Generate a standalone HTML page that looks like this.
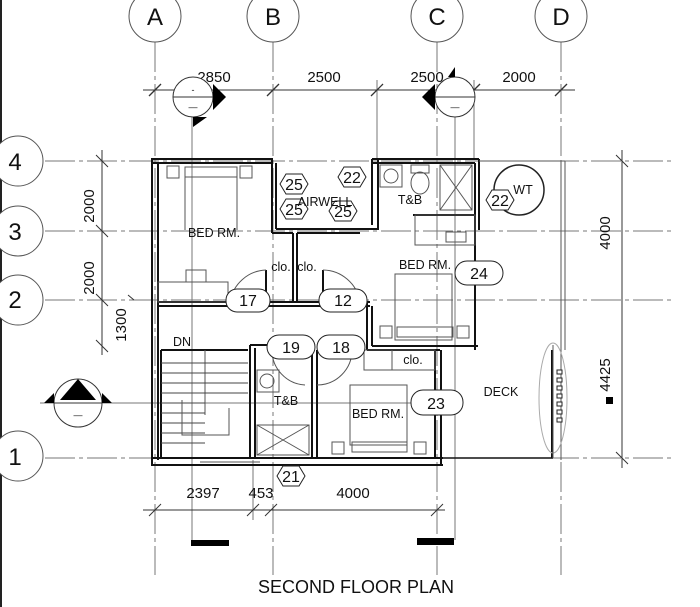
<!DOCTYPE html>
<html><head><style>
body{margin:0;background:#fff;}
svg{display:block;}
text{font-family:"Liberation Sans",sans-serif;fill:#111;}
</style></head><body>
<svg width="700" height="607" viewBox="0 0 700 607" xmlns="http://www.w3.org/2000/svg">
<rect width="700" height="607" fill="#fff"/>
<line x1="1" y1="0" x2="1" y2="607" stroke="#222" stroke-width="2"/>
<g stroke="#777" stroke-width="1" fill="none">
<line x1="155" y1="42" x2="155" y2="575" stroke-dasharray="30,4,4,4"/>
<line x1="273" y1="42" x2="273" y2="575" stroke-dasharray="30,4,4,4"/>
<line x1="437" y1="42" x2="437" y2="575" stroke-dasharray="30,4,4,4"/>
<line x1="561" y1="42" x2="561" y2="575" stroke-dasharray="30,4,4,4"/>
<line x1="45" y1="161" x2="672" y2="161" stroke-dasharray="30,4,4,4"/>
<line x1="45" y1="231" x2="672" y2="231" stroke-dasharray="30,4,4,4"/>
<line x1="45" y1="300" x2="672" y2="300" stroke-dasharray="30,4,4,4"/>
<line x1="45" y1="458" x2="672" y2="458" stroke-dasharray="30,4,4,4"/>
<line x1="40" y1="403" x2="440" y2="403"/>
<line x1="377" y1="80" x2="377" y2="160"/>
<line x1="474" y1="80" x2="474" y2="160"/>
<line x1="192" y1="110" x2="192" y2="540"/>
<line x1="455" y1="110" x2="455" y2="540"/>
<line x1="253" y1="460" x2="253" y2="520"/>
</g>
<g stroke="#555" fill="#fff" stroke-width="1">
<circle cx="155" cy="16" r="26"/><circle cx="273" cy="16" r="26"/>
<circle cx="437" cy="16" r="26"/><circle cx="561" cy="16" r="26"/>
<circle cx="18" cy="161" r="25"/><circle cx="18" cy="231" r="25"/>
<circle cx="18" cy="300" r="25"/><circle cx="18" cy="456" r="25"/>
</g>
<g font-size="24" text-anchor="middle">
<text x="155" y="25">A</text><text x="273" y="25">B</text><text x="437" y="25">C</text><text x="561" y="25">D</text>
<text x="15" y="170">4</text><text x="15" y="240">3</text><text x="15" y="308">2</text><text x="15" y="465">1</text>
</g>
<g stroke="#333" stroke-width="1">
<line x1="143" y1="90" x2="575" y2="90"/>
<g stroke-width="1.3">
<line x1="149" y1="96" x2="161" y2="84"/><line x1="267" y1="96" x2="279" y2="84"/>
<line x1="371" y1="96" x2="383" y2="84"/><line x1="468" y1="96" x2="480" y2="84"/>
<line x1="555" y1="96" x2="567" y2="84"/>
</g>
<line x1="102" y1="150" x2="102" y2="355"/>
<line x1="96" y1="155" x2="108" y2="167"/><line x1="96" y1="225" x2="108" y2="237"/>
<line x1="96" y1="294" x2="108" y2="306"/><line x1="96" y1="340" x2="108" y2="352"/>
<line x1="128" y1="295" x2="134" y2="300"/>
<line x1="622" y1="150" x2="622" y2="468"/>
<line x1="616" y1="155" x2="628" y2="167"/><line x1="616" y1="452" x2="628" y2="464"/>
<line x1="143" y1="510" x2="445" y2="510"/>
<line x1="149" y1="516" x2="161" y2="504"/><line x1="247" y1="516" x2="259" y2="504"/>
<line x1="265" y1="516" x2="277" y2="504"/><line x1="431" y1="516" x2="443" y2="504"/>
</g>
<g font-size="15" text-anchor="middle">
<text x="214" y="82">2850</text><text x="324" y="82">2500</text><text x="427" y="82">2500</text><text x="519" y="82">2000</text>
<text x="203" y="498">2397</text><text x="261" y="498">453</text><text x="353" y="498">4000</text>
<text transform="translate(94,206) rotate(-90)">2000</text>
<text transform="translate(94,278) rotate(-90)">2000</text>
<text transform="translate(126,325) rotate(-90)">1300</text>
<text transform="translate(610,233) rotate(-90)">4000</text>
<text transform="translate(610,375) rotate(-90)">4425</text>
</g>
<rect x="606" y="397" width="7" height="7" fill="#000"/>
<g stroke="#333" fill="#fff">
<circle cx="193" cy="97" r="20"/><line x1="173" y1="97" x2="213" y2="97"/>
<circle cx="455" cy="97" r="20"/><line x1="435" y1="97" x2="475" y2="97"/>
<circle cx="78" cy="403" r="24"/><line x1="54" y1="403" x2="102" y2="403"/>
</g>
<g fill="#000">
<polygon points="213,97 226,97 213,84"/><polygon points="213,97 226,97 213,110" />
<polygon points="193,117 193,127 207,117"/>
<polygon points="435,97 422,97 435,84"/><polygon points="435,97 422,97 435,110"/>
<polygon points="455,77 455,67 448,77"/>
<polygon points="78,379 60,400 96,400"/><polygon points="54,403 44,403 54,393"/><polygon points="102,403 112,403 102,393"/>
<rect x="191" y="540" width="38" height="6"/><rect x="417" y="538" width="37" height="7"/>
</g>
<g font-size="9" text-anchor="middle"><text x="193" y="93">-</text><text x="193" y="110">—</text><text x="455" y="110">—</text><text x="78" y="418">—</text></g>
<g stroke="#111" stroke-width="2" fill="none">
<rect x="152" y="159" width="120" height="4"/>
<line x1="152" y1="159" x2="152" y2="466"/><line x1="158" y1="163" x2="158" y2="460"/>
<line x1="272" y1="159" x2="272" y2="233"/><line x1="276" y1="163" x2="276" y2="229"/>
<line x1="276" y1="229" x2="378" y2="229"/><line x1="272" y1="233" x2="293" y2="233"/><line x1="297" y1="233" x2="360" y2="233"/>
<line x1="378" y1="159" x2="378" y2="230"/><line x1="372" y1="159" x2="372" y2="225"/>
<line x1="372" y1="159" x2="479" y2="159"/><line x1="372" y1="163" x2="475" y2="163"/>
<line x1="475" y1="163" x2="475" y2="350"/><line x1="479" y1="159" x2="479" y2="230"/>
<line x1="413" y1="215" x2="475" y2="215"/>
<line x1="293" y1="233" x2="293" y2="302"/><line x1="297" y1="233" x2="297" y2="302"/>
<line x1="266" y1="270" x2="266" y2="302"/><line x1="323" y1="270" x2="323" y2="302"/>
<line x1="158" y1="302" x2="370" y2="302"/><line x1="158" y1="306" x2="370" y2="306"/>
<line x1="367" y1="302" x2="367" y2="350"/><line x1="372" y1="306" x2="372" y2="346"/>
<line x1="372" y1="346" x2="478" y2="346"/><line x1="367" y1="350" x2="440" y2="350"/>
<line x1="161" y1="350" x2="248" y2="350"/><line x1="161" y1="350" x2="161" y2="458"/>
<line x1="250" y1="345" x2="250" y2="458"/><line x1="255" y1="348" x2="255" y2="458"/>
<line x1="312" y1="348" x2="312" y2="458"/><line x1="317" y1="350" x2="317" y2="458"/>
<line x1="250" y1="345" x2="270" y2="345"/>
<line x1="152" y1="458" x2="443" y2="458"/><line x1="152" y1="465" x2="443" y2="465"/>
<line x1="435" y1="350" x2="435" y2="458"/><line x1="441" y1="350" x2="441" y2="465"/>
<line x1="443" y1="458" x2="553" y2="458" stroke-width="1.5"/>
<line x1="552" y1="350" x2="552" y2="458"/>
</g>
<g stroke="#555" stroke-width="1" fill="none">
<line x1="479" y1="161" x2="565" y2="161"/><line x1="561" y1="161" x2="561" y2="460"/><line x1="565" y1="161" x2="565" y2="350"/>
<rect x="167" y="166" width="12" height="12"/><rect x="240" y="166" width="12" height="12"/>
<rect x="185" y="167" width="52" height="10"/><line x1="185" y1="177" x2="185" y2="230"/><line x1="237" y1="177" x2="237" y2="230"/>
<rect x="158" y="282" width="70" height="20"/><rect x="186" y="270" width="20" height="12"/>
<rect x="380" y="165" width="22" height="22"/><circle cx="391" cy="176" r="7"/>
<ellipse cx="420" cy="183" rx="9" ry="11"/><rect x="411" y="165" width="18" height="8"/>
<rect x="440" y="165" width="32" height="45"/><line x1="440" y1="165" x2="472" y2="210"/><line x1="472" y1="165" x2="440" y2="210"/>
<rect x="415" y="215" width="60" height="30"/>
<rect x="446" y="232" width="20" height="10"/>
<rect x="395" y="274" width="57" height="66"/><rect x="380" y="326" width="12" height="12"/><rect x="457" y="326" width="12" height="12"/>
<rect x="397" y="327" width="56" height="10"/>
<line x1="205" y1="350" x2="205" y2="415"/>
<g stroke="#444">
<line x1="161" y1="363" x2="248" y2="363"/><line x1="161" y1="373" x2="205" y2="373"/><line x1="161" y1="383" x2="205" y2="383"/>
<line x1="161" y1="393" x2="205" y2="393"/><line x1="161" y1="403" x2="205" y2="403"/><line x1="161" y1="413" x2="205" y2="413"/>
<line x1="161" y1="423" x2="205" y2="423"/><line x1="161" y1="433" x2="205" y2="433"/><line x1="161" y1="443" x2="205" y2="443"/>
<line x1="205" y1="373" x2="248" y2="373"/><line x1="205" y1="383" x2="248" y2="383"/><line x1="205" y1="393" x2="248" y2="393"/>
</g>
<polyline points="182,400 182,435 229,435 229,408"/>
<rect x="257" y="370" width="22" height="22"/><circle cx="267" cy="381" r="7"/>
<rect x="257" y="425" width="52" height="30"/><line x1="257" y1="425" x2="309" y2="455"/><line x1="309" y1="425" x2="257" y2="455"/>
<rect x="350" y="385" width="57" height="60"/><rect x="332" y="442" width="12" height="12"/><rect x="414" y="442" width="12" height="12"/>
<rect x="352" y="442" width="55" height="10"/>
<rect x="364" y="350" width="28" height="20"/><rect x="392" y="350" width="43" height="20"/>
<path d="M230,302 A38,38 0 0 1 266,270"/><path d="M323,270 A38,38 0 0 1 360,302"/>
<path d="M272,350 A35,35 0 0 0 305,385"/><path d="M317,385 A35,35 0 0 0 352,350"/>
<ellipse cx="553" cy="398" rx="14" ry="55" stroke="#aaa"/>
<line x1="553" y1="345" x2="553" y2="458"/>
<line x1="200" y1="462" x2="260" y2="462"/>
</g>
<g fill="#fff" stroke="#222">
<rect x="557" y="370" width="5" height="4"/><rect x="557" y="378" width="5" height="4"/><rect x="557" y="386" width="5" height="4"/>
<rect x="557" y="394" width="5" height="4"/><rect x="557" y="402" width="5" height="4"/><rect x="557" y="410" width="5" height="4"/><rect x="557" y="418" width="5" height="4"/>
</g>
<circle cx="519" cy="190" r="25" fill="none" stroke="#222" stroke-width="1.5"/>
<g fill="#fff" stroke="#222" stroke-width="1">
<rect x="226" y="289" width="44" height="23" rx="11"/><rect x="319" y="289" width="48" height="23" rx="11"/>
<rect x="455" y="261" width="48" height="24" rx="12"/><rect x="411" y="390" width="52" height="25" rx="12"/>
<rect x="267" y="335" width="48" height="24" rx="12"/><rect x="317" y="335" width="48" height="24" rx="12"/>
<polygon points="280,184 286,174 302,174 308,184 302,194 286,194"/>
<polygon points="280,209 286,199 302,199 308,209 302,219 286,219"/>
<polygon points="329,211 335,201 351,201 357,211 351,221 335,221"/>
<polygon points="338,177 344,167 360,167 366,177 360,187 344,187"/>
<polygon points="486,200 492,190 508,190 514,200 508,210 492,210"/>
<polygon points="277,476 283,466 299,466 305,476 299,486 283,486"/>
</g>
<g font-size="16" text-anchor="middle">
<text x="248" y="306">17</text><text x="343" y="306">12</text><text x="479" y="279">24</text><text x="436" y="409">23</text>
<text x="291" y="353">19</text><text x="341" y="353">18</text>
<text x="294" y="190">25</text><text x="294" y="215">25</text><text x="343" y="217">25</text><text x="352" y="183">22</text>
<text x="500" y="206">22</text><text x="291" y="482">21</text>
</g>
<g font-size="12.5" text-anchor="middle">
<text x="214" y="237">BED RM.</text><text x="425" y="269">BED RM.</text><text x="378" y="418">BED RM.</text>
<text x="325" y="206">AIRWELL</text><text x="410" y="204">T&amp;B</text><text x="286" y="405">T&amp;B</text>
<text x="523" y="194">WT</text><text x="281" y="271">clo.</text><text x="307" y="271">clo.</text><text x="413" y="364">clo.</text>
<text x="182" y="346">DN</text><text x="501" y="396">DECK</text>
</g>
<text x="356" y="593" font-size="18" text-anchor="middle">SECOND FLOOR PLAN</text>
</svg>
</body></html>
